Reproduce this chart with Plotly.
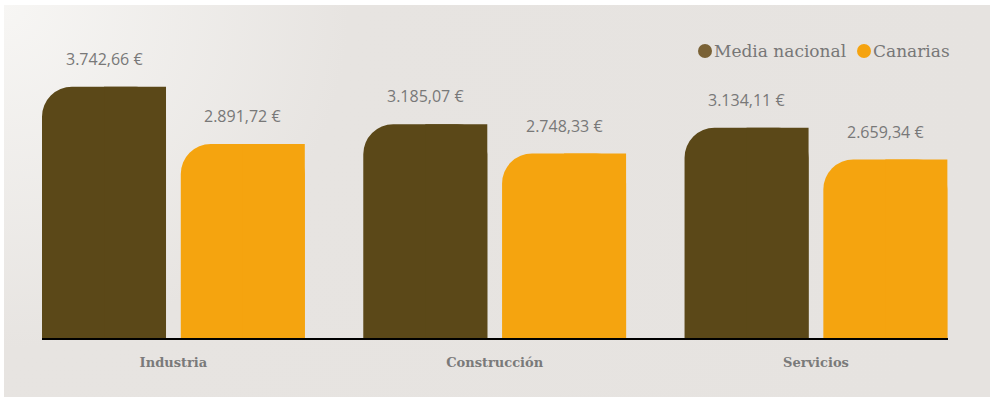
import base64
import plotly.graph_objects as go

categories = ["Industria", "Construcción", "Servicios"]
series_names = ["Media nacional", "Canarias"]
media_nacional = [3742.66, 3185.07, 3134.11]
canarias = [2891.72, 2748.33, 2659.34]
series_values = [media_nacional, canarias]

bar_colors = ["#5b4818", "#f5a40f"]
legend_colors = ["#7a6236", "#f5a30f"]

def fmt_eur(v):
    s = f"{v:,.2f}"
    s = s.replace(",", "X").replace(".", ",").replace("X", ".")
    return s + " €"

W, H = 990, 397
L, R, T, B = 42, 42, 20, 59
x_range = [-0.409, 2.411]
y_max = 4738
bar_w = 0.386
offsets = [-0.409, 0.409 - bar_w]
x_idx = list(range(len(categories)))

fig = go.Figure()
for vals, col, off in zip(series_values, bar_colors, offsets):
    # rounded-top bar
    fig.add_trace(go.Bar(x=x_idx, y=vals, width=bar_w, offset=off,
                         marker=dict(color=col, cornerradius=30, line=dict(width=0)),
                         showlegend=False, hoverinfo="skip"))
    # square right half (only top-left corner stays rounded)
    fig.add_trace(go.Bar(x=x_idx, y=vals, width=bar_w / 2, offset=off + bar_w / 2,
                         marker=dict(color=col, line=dict(width=0)),
                         showlegend=False, hoverinfo="skip"))

annotations = []
for vals, off in zip(series_values, offsets):
    for i, v in zip(x_idx, vals):
        annotations.append(dict(x=i + off + bar_w / 2, y=v, xref="x", yref="y",
                                text=fmt_eur(v), showarrow=False, yanchor="middle",
                                yshift=28, font=dict(family="Open Sans", size=16, color="#787878")))

# legend (custom, circle markers close to text)
pw, ph = W - L - R, H - T - B
def px_x(px):
    return (px - L) / pw
def px_y(py):
    return (H - B - py) / ph

shapes = []
legend_pos = [698, 857]
for name, col, lx in zip(series_names, legend_colors, legend_pos):
    shapes.append(dict(type="circle", xref="paper", yref="paper",
                       x0=px_x(lx), x1=px_x(lx + 14), y0=px_y(58), y1=px_y(44),
                       fillcolor=col, line=dict(width=0)))
    annotations.append(dict(x=px_x(lx + 14), y=px_y(51), xref="paper", yref="paper",
                            xanchor="left", yanchor="middle", text=name, showarrow=False,
                            font=dict(family="DejaVu Serif", size=17, color="#777777")))

svg = (f'<svg xmlns="http://www.w3.org/2000/svg" width="{W}" height="{H}">'
       '<defs><radialGradient id="g" cx="0" cy="0" r="1" gradientUnits="objectBoundingBox" '
       'gradientTransform="scale(1,2.5)">'
       '<stop offset="0" stop-color="#f7f6f4"/><stop offset="0.35" stop-color="#e7e4e1"/>'
       '<stop offset="1" stop-color="#e6e3e0"/></radialGradient></defs>'
       f'<rect x="4" y="5" width="{W-4}" height="{H-5}" fill="url(#g)"/></svg>')
src = "data:image/svg+xml;base64," + base64.b64encode(svg.encode()).decode()

fig.update_layout(
    width=W, height=H,
    margin=dict(l=L, r=R, t=T, b=B),
    paper_bgcolor="#ffffff",
    plot_bgcolor="rgba(0,0,0,0)",
    barmode="overlay",
    images=[dict(source=src, xref="paper", yref="paper", x=-L / pw, y=1 + T / ph,
                 sizex=W / pw, sizey=H / ph, sizing="stretch", xanchor="left",
                 yanchor="top", layer="below")],
    xaxis=dict(range=x_range, tickvals=x_idx, ticktext=categories, showgrid=False,
               zeroline=False, showline=True, linecolor="#000000", linewidth=2,
               ticks="", ticklabelstandoff=11,
               tickfont=dict(family="DejaVu Serif", size=13, color="#7a7a7a", weight="bold"),
               fixedrange=True),
    yaxis=dict(range=[0, y_max], visible=False, fixedrange=True),
    annotations=annotations,
    shapes=shapes,
    showlegend=False,
)

fig.write_html("out.html", config={"displayModeBar": False},
               post_script="document.body.style.margin='0';document.body.style.overflow='hidden';")
